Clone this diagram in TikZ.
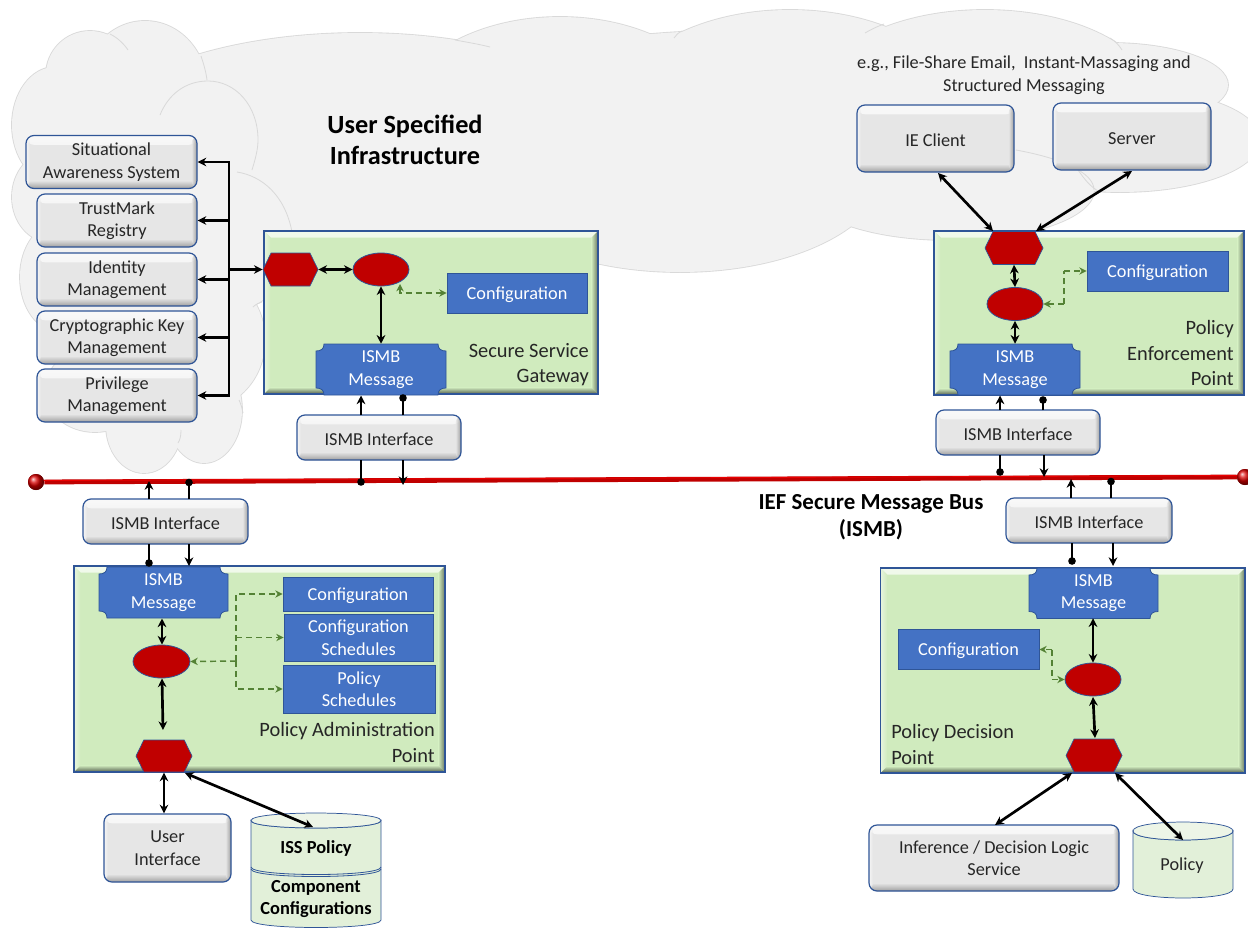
\documentclass[tikz,border=0pt]{standalone}
\usepackage{fontspec}
\setmainfont{Carlito}
\usetikzlibrary{arrows.meta,calc,shapes.geometric,shapes.symbols}
\definecolor{cloudfill}{HTML}{F2F2F2}
\definecolor{cloudline}{HTML}{D9D9D9}
\definecolor{edgeblue}{HTML}{2F5597}
\definecolor{greyfill}{HTML}{E6E6E6}
\definecolor{greenfill}{HTML}{D0EBBE}
\definecolor{blockblue}{HTML}{4472C4}
\definecolor{darkred}{HTML}{C00000}
\definecolor{dashgreen}{HTML}{548235}
\definecolor{cylfill}{HTML}{E2F0D9}
\definecolor{cyltop}{HTML}{EDF5E7}
\definecolor{inktext}{HTML}{262626}
\newcommand{\cloudlist}{
  90/75/44/44, 145/88/62/67, 55/125/43/58, 208/140/50/59, 232/240/60/70,
  50/197/38/45, 60/277/40/55, 95/390/50/42, 144/425/38/48, 204/410/38/53,
  200/340/65/70, 150/260/100/160, 360/150/280/117, 560/130/170/113,
  790/120/180/110, 985/100/170/90, 1110/85/118/42, 1120/140/140/52,
  680/170/205/102, 950/190/144/50, 750/130/350/100}
\newcommand{\plaquepath}[5]{%
  \draw[#5] ({#1+8},#2) -- ({#3-8},#2) .. controls ({#3-8},{#2+5}) and ({#3-5},{#2+7}) .. (#3,{#2+7})
   -- (#3,{#4-7}) .. controls ({#3-5},{#4-7}) and ({#3-8},{#4-5}) .. ({#3-8},#4)
   -- ({#1+8},#4) .. controls ({#1+8},{#4-5}) and ({#1+5},{#4-7}) .. (#1,{#4-7})
   -- (#1,{#2+7}) .. controls ({#1+5},{#2+7}) and ({#1+8},{#2+5}) .. ({#1+8},#2) -- cycle;}
\newcommand{\cylpath}[5]{% x1 x2 ytop ybot ry
  \draw[cylbody] (#1,#3) -- (#1,#4) .. controls (#1,{#4+1.33*#5}) and (#2,{#4+1.33*#5}) .. (#2,#4) -- (#2,#3)
    .. controls (#2,{#3+1.33*#5}) and (#1,{#3+1.33*#5}) .. (#1,#3) -- cycle;
  \draw[cylbody,fill=cyltop] (#1,#3) .. controls (#1,{#3-1.33*#5}) and (#2,{#3-1.33*#5}) .. (#2,#3)
    .. controls (#2,{#3+1.33*#5}) and (#1,{#3+1.33*#5}) .. (#1,#3) -- cycle;}
\newcommand{\dotline}[2]{\draw[stem] (#1) -- (#2); \fill[black] (#2) circle [radius=3.8];}
\tikzset{
  x=0.75pt,y=-0.75pt,
  body/.style={font=\fontsize{13.7}{16.9}\selectfont,text=inktext,align=center,inner sep=0pt,execute at begin node={\rule{0pt}{11.5pt}}},
  greybox/.style={body,draw=edgeblue,line width=0.9pt,fill=greyfill,rounded corners=6pt,
    path picture={
      \shade[top color=white!75!greyfill,bottom color=greyfill] (path picture bounding box.north west) rectangle ([yshift=-7pt]path picture bounding box.north east);
      \shade[top color=greyfill,bottom color=gray!75] ([yshift=6pt]path picture bounding box.south west) rectangle (path picture bounding box.south east);
      \shade[left color=white,right color=greyfill,opacity=.6] (path picture bounding box.south west) rectangle ([xshift=3pt]path picture bounding box.north west);
      \shade[left color=greyfill,right color=gray,opacity=.7] ([xshift=-4pt]path picture bounding box.south east) rectangle (path picture bounding box.north east);
    }},
  greenbox/.style={draw=edgeblue,line width=0.9pt,fill=greenfill,inner sep=0pt,
    path picture={
      \shade[bottom color=greenfill,top color=white!70!greenfill] (path picture bounding box.north west) -- (path picture bounding box.north east)
        -- ([xshift=-5pt,yshift=-5pt]path picture bounding box.north east) -- ([xshift=5pt,yshift=-5pt]path picture bounding box.north west) -- cycle;
      \shade[right color=greenfill,left color=white!50!greenfill] (path picture bounding box.north west) -- (path picture bounding box.south west)
        -- ([xshift=5pt,yshift=5pt]path picture bounding box.south west) -- ([xshift=5pt,yshift=-5pt]path picture bounding box.north west) -- cycle;
      \shade[left color=greenfill,right color=black!50!greenfill] (path picture bounding box.north east) -- (path picture bounding box.south east)
        -- ([xshift=-5pt,yshift=5pt]path picture bounding box.south east) -- ([xshift=-5pt,yshift=-5pt]path picture bounding box.north east) -- cycle;
      \shade[top color=greenfill,bottom color=black!60!greenfill] (path picture bounding box.south west) -- (path picture bounding box.south east)
        -- ([xshift=-5pt,yshift=5pt]path picture bounding box.south east) -- ([xshift=5pt,yshift=5pt]path picture bounding box.south west) -- cycle;
    }},
  blueblock/.style={body,text=white,fill=blockblue,draw=edgeblue,line width=0.6pt},
  msgtext/.style={body,text=white},
  msgshape/.style={fill=blockblue,draw=edgeblue,line width=0.6pt},
  redhex/.style={shape=signal,signal to=east and west,signal pointer angle=128,fill=darkred,draw=edgeblue,line width=0.5pt,inner sep=0pt},
  redoval/.style={ellipse,fill=darkred,draw=edgeblue,line width=0.6pt,inner sep=0pt},
  title/.style={text=black,inner sep=0pt},
  label/.style={body,font=\fontsize{15.3}{18.8}\selectfont},
  boldtext/.style={body,font=\fontsize{13.8}{16.9}\selectfont\bfseries,text=black,minimum width=130*0.75pt},
  cylbody/.style={fill=cylfill,draw=edgeblue,line width=0.55pt},
  two/.style={line width=2pt,black,{Stealth[length=6.5pt,width=6.5pt]}-{Stealth[length=6.5pt,width=6.5pt]}},
  one/.style={line width=2pt,black,-{Stealth[length=6.5pt,width=6.5pt]}},
  stem/.style={line width=2pt,black},
  dash2/.style={line width=1.1pt,dashgreen,dash pattern=on 4.5pt off 3pt,{Stealth[length=5.5pt,width=5.5pt]}-{Stealth[length=5.5pt,width=5.5pt]}},
  dash1/.style={line width=1.1pt,dashgreen,dash pattern=on 4.5pt off 3pt,-{Stealth[length=5.5pt,width=5.5pt]}},
  dash0/.style={line width=1.1pt,dashgreen,dash pattern=on 4.5pt off 3pt},
  inner/.style={cloudline,line width=0.6pt},
  ballend/.style={circle,shading=ball,ball color=red!85!black,minimum size=12pt,inner sep=0pt},
}
\begin{document}
\begin{tikzpicture}
\useasboundingbox (0,0) rectangle (1248,928);
\clip (0,0) rectangle (1248,928);
\fill[white] (0,0) rectangle (1248,928);
% clouds
\foreach \cx/\cy/\rx/\ry in \cloudlist {\draw[cloudline,line width=1.3pt] (\cx,\cy) ellipse [x radius=\rx,y radius=\ry];}
\foreach \cx/\cy/\rx/\ry in \cloudlist {\fill[cloudfill] (\cx,\cy) ellipse [x radius=\rx,y radius=\ry];}
\draw[inner] (110,34) .. controls (118,38) and (124,44) .. (128,50);
\draw[inner] (201,56) .. controls (204,65) and (206,72) .. (207,80);
\draw[inner] (160,115) .. controls (168,95) and (185,81) .. (208,81) .. controls (235,81) and (258,105) .. (258,140) .. controls (258,150) and (255,160) .. (252,170);
\draw[inner] (237,172) .. controls (262,176) and (285,195) .. (292,232);
\draw[inner] (455,40) .. controls (466,42) and (478,44) .. (490,47);
\draw[inner] (674,38) .. controls (676,35) and (678,33) .. (682,31);
\draw[inner] (865,33) .. controls (870,30) and (876,27) .. (884,24);
\draw[inner] (1110,38) .. controls (1115,41) and (1119,45) .. (1122,50);
\draw[inner] (1016,150) .. controls (1060,158) and (1094,172) .. (1094,190);
\draw[inner] (1078,170) .. controls (1085,180) and (1090,186) .. (1098,191);
\draw[inner] (253,307) .. controls (256,304) and (259,303) .. (262,302);
\draw[inner] (239,400) .. controls (241,404) and (242,408) .. (243,413);
\draw[inner] (181,430) .. controls (181,436) and (180,440) .. (178,443);
% titles
\node[title,align=center,font=\fontsize{19.7}{23.4}\selectfont\bfseries] (usi) at (405,140) {User Specified\\Infrastructure};
\node[body] (eg) at (1024,75) {e.g., File-Share Email,\ \ Instant-Massaging and\\Structured Messaging};
\node[title,align=center,font=\fontsize{17.2}{20.5}\selectfont\bfseries] (ief) at (871,517) {IEF Secure Message Bus\\(ISMB)};
% bus
\node[ballend] (busL) at (36,482) {};
\node[ballend] (busR) at (1245,477) {};
\draw[darkred,line width=3.6pt] (busL) -- (busR);
\draw[red!70!darkred,line width=0.7pt] ($(busL)+(0,-1.5)$) -- ($(busR)+(0,-1.5)$);
\node[ballend] (busLcap) at (busL) {};
\node[ballend] (busRcap) at (busR) {};
% left services
\node[greybox,minimum width=171*0.75pt,minimum height=53*0.75pt] (sa) at (111.5,162) {Situational\\Awareness System};
\node[greybox,minimum width=160*0.75pt,minimum height=53*0.75pt] (tm) at (117,220.5) {TrustMark\\Registry};
\node[greybox,minimum width=160*0.75pt,minimum height=53*0.75pt] (im) at (117,279.5) {Identity\\Management};
\node[greybox,minimum width=160*0.75pt,minimum height=53*0.75pt] (ck) at (117,337.5) {Cryptographic Key\\Management};
\node[greybox,minimum width=160*0.75pt,minimum height=53*0.75pt] (pm) at (117,395.5) {Privilege\\Management};
% Secure service gateway
\node[greenbox,minimum width=334*0.75pt,minimum height=163*0.75pt] (ssg) at (431,312.5) {};
\node[redhex,minimum width=55*0.75pt,minimum height=33*0.75pt] (hexA) at (290.5,269.5) {};
\node[redoval,minimum width=56*0.75pt,minimum height=33*0.75pt] (ovA) at (381,269.5) {};
\node[blueblock,minimum width=140*0.75pt,minimum height=40*0.75pt] (cfgA) at (517,293) {Configuration};
\plaquepath{316}{344}{446}{395}{msgshape}
\node[msgtext,minimum width=130*0.75pt,minimum height=51*0.75pt] (msgA) at (381,369.5) {ISMB\\Message};
\node[label,align=right,anchor=east] (lblA) at (589,365) {Secure Service\\Gateway};
\node[greybox,minimum width=164*0.75pt,minimum height=45*0.75pt] (ifA) at (379,437.5) {ISMB Interface};
\coordinate (hub) at (229,269.5);
\foreach \b in {sa,tm,im,ck,pm} {\draw[one] (hub) |- (\b.east);}
\draw[one] (hub) -- (hexA.west);
\draw[two] (hexA.east) -- (ovA.west);
\draw[two] (ovA.south) -- (msgA.north);
\coordinate (dA) at (400,284);
\draw[dash2] (dA) |- (cfgA.west);
\coordinate (a1) at (361,415); \coordinate (a2) at (361,395.5);
\coordinate (a3) at (403,415); \coordinate (a4) at (403,398);
\coordinate (a5) at (361,460); \coordinate (a6) at (361,482);
\coordinate (a7) at (403,460); \coordinate (a8) at (403,485);
\draw[one] (a1) -- (a2); \dotline{a3}{a4} \dotline{a5}{a6} \draw[one] (a7) -- (a8);
% Policy enforcement point
\node[greybox,minimum width=157*0.75pt,minimum height=67*0.75pt] (ie) at (935.5,138.5) {IE Client};
\node[greybox,minimum width=158*0.75pt,minimum height=67*0.75pt] (srv) at (1132,136.5) {Server};
\node[greenbox,minimum width=310*0.75pt,minimum height=164*0.75pt] (pep) at (1089,313) {};
\node[redhex,minimum width=58*0.75pt,minimum height=33*0.75pt] (hexB) at (1014,248) {};
\node[redoval,minimum width=56*0.75pt,minimum height=33*0.75pt] (ovB) at (1015,304) {};
\node[blueblock,minimum width=141*0.75pt,minimum height=40*0.75pt] (cfgB) at (1157.5,271) {Configuration};
\plaquepath{950}{344}{1080}{395}{msgshape}
\node[msgtext,minimum width=130*0.75pt,minimum height=51*0.75pt] (msgB) at (1015,369.5) {ISMB\\Message};
\node[label,align=right,anchor=east] (lblB) at (1234,353) {Policy\\Enforcement\\Point};
\node[greybox,minimum width=164*0.75pt,minimum height=45*0.75pt] (ifB) at (1018,432.5) {ISMB Interface};
\coordinate (b1) at (938,173); \coordinate (b2) at (993,231);
\coordinate (b3) at (1132,171); \coordinate (b4) at (1036,231);
\draw[two] (b1) -- (b2); \draw[two] (b3) -- (b4);
\draw[two] (hexB.south) -- (ovB.north);
\draw[two] (ovB.south) -- (msgB.north);
\coordinate (b5) at (1064,304);
\coordinate (b6) at (1064,271);
\draw[dash1] (b5) -- (ovB.east);
\draw[dash0] (b5) -- (b6);
\draw[dash1] (b6) -- (cfgB.west);
\coordinate (c1) at (1000,410); \coordinate (c2) at (1000,395.5);
\coordinate (c3) at (1043,410); \coordinate (c4) at (1043,400);
\coordinate (c5) at (1000,455); \coordinate (c6) at (1000,472);
\coordinate (c7) at (1044,455); \coordinate (c8) at (1044,477);
\draw[one] (c1) -- (c2); \dotline{c3}{c4} \dotline{c5}{c6} \draw[one] (c7) -- (c8);
% Policy administration point
\node[greybox,minimum width=165*0.75pt,minimum height=45*0.75pt] (ifC) at (165.5,521.5) {ISMB Interface};
\node[greenbox,minimum width=371*0.75pt,minimum height=206*0.75pt] (pap) at (259.5,669) {};
\plaquepath{99}{567}{228}{618}{msgshape}
\node[msgtext,minimum width=129*0.75pt,minimum height=51*0.75pt] (msgC) at (163.5,592.5) {ISMB\\Message};
\node[redoval,minimum width=57*0.75pt,minimum height=33*0.75pt] (ovC) at (161.5,661.5) {};
\node[redhex,minimum width=56*0.75pt,minimum height=32*0.75pt] (hexC) at (164,756) {};
\node[blueblock,minimum width=150*0.75pt,minimum height=34*0.75pt] (cfgC) at (358,594) {Configuration};
\node[blueblock,minimum width=149*0.75pt,minimum height=47*0.75pt] (schC) at (358.5,637.5) {Configuration\\Schedules};
\node[blueblock,minimum width=152*0.75pt,minimum height=48*0.75pt] (polC) at (359,689) {Policy\\Schedules};
\node[label,align=right,anchor=east] (lblC) at (435,742.5) {Policy Administration\\Point};
\coordinate (e1) at (149,499); \coordinate (e2) at (149,481);
\coordinate (e3) at (189,499); \coordinate (e4) at (189,482.5);
\coordinate (e5) at (149,544); \coordinate (e6) at (149,563);
\coordinate (e7) at (189,544); \coordinate (e8) at (189,566);
\draw[one] (e1) -- (e2); \dotline{e3}{e4} \dotline{e5}{e6} \draw[one] (e7) -- (e8);
\coordinate (e9) at (162,618.5); \coordinate (e10) at (162,644.5);
\draw[two] (e9) -- (e10);
\coordinate (e11) at (162,678.5); \coordinate (e12) at (163,730);
\draw[two] (e11) -- (e12);
\coordinate (dC) at (236,661);
\draw[dash1] (dC) -- (ovC.east);
\draw[dash1] (dC) |- (cfgC.west);
\draw[dash1] (dC |- schC.west) -- (schC.west);
\draw[dash1] (dC) |- (polC.west);
\node[greybox,minimum width=127*0.75pt,minimum height=68*0.75pt] (ui) at (167.5,848) {User\\Interface};
\cylpath{251}{381}{820.5}{920}{7.5}
\draw[edgeblue,line width=0.6pt] (251,867) .. controls (251,877) and (381,877) .. (381,867);
\draw[edgeblue,line width=0.6pt] (251,869) .. controls (251,879) and (381,879) .. (381,869);
\node[boldtext] (iss) at (316,847) {ISS Policy};
\node[boldtext] (comp) at (316,899) {Component\\Configurations};
\draw[two] (hexC.south |- pap.south) -- (ui.north -| hexC.south);
\coordinate (e13) at (185,773); \coordinate (e14) at (313,827);
\draw[two] (e13) -- (e14);
% Policy decision point
\node[greybox,minimum width=166*0.75pt,minimum height=45*0.75pt] (ifD) at (1089,520.5) {ISMB Interface};
\node[greenbox,minimum width=364.5*0.75pt,minimum height=205*0.75pt] (pdp) at (1062.75,670.5) {};
\plaquepath{1029}{568}{1158}{618.5}{msgshape}
\node[msgtext,minimum width=129*0.75pt,minimum height=50*0.75pt] (msgD) at (1093.5,593) {ISMB\\Message};
\node[redoval,minimum width=56*0.75pt,minimum height=33*0.75pt] (ovD) at (1093,679.5) {};
\node[redhex,minimum width=56*0.75pt,minimum height=33*0.75pt] (hexD) at (1094,755.5) {};
\node[blueblock,minimum width=141*0.75pt,minimum height=40*0.75pt] (cfgD) at (968.5,649.5) {Configuration};
\node[label,align=left,anchor=west] (lblD) at (891,744.5) {Policy Decision\\Point};
\coordinate (f1) at (1071,498); \coordinate (f2) at (1071,479);
\coordinate (f3) at (1111,498); \coordinate (f4) at (1111,481.5);
\coordinate (f5) at (1072,543); \coordinate (f6) at (1072,561);
\coordinate (f7) at (1113,543); \coordinate (f8) at (1113,566);
\draw[one] (f1) -- (f2); \dotline{f3}{f4} \dotline{f5}{f6} \draw[one] (f7) -- (f8);
\draw[two] (ovD.north |- msgD.south) -- (ovD.north);
\coordinate (f9) at (1093,697); \coordinate (f10) at (1095,738);
\draw[two] (f9) -- (f10);
\coordinate (f11) at (1052,649.5); \coordinate (f12) at (1052,679.5);
\draw[dash1] (f11) -- (cfgD.east);
\draw[dash0] (f11) -- (f12);
\draw[dash1] (f12) -- (ovD.west);
\node[greybox,minimum width=250*0.75pt,minimum height=66*0.75pt] (inf) at (994,858) {Inference / Decision Logic\\Service};
\cylpath{1133}{1233}{831}{889}{9}
\node[body,minimum width=100*0.75pt] (pol) at (1182,864) {Policy};
\coordinate (f13) at (1072,773); \coordinate (f14) at (995,825);
\coordinate (f15) at (1115,773); \coordinate (f16) at (1183,840);
\draw[two] (f13) -- (f14);
\draw[two] (f15) -- (f16);
\end{tikzpicture}
\end{document}
